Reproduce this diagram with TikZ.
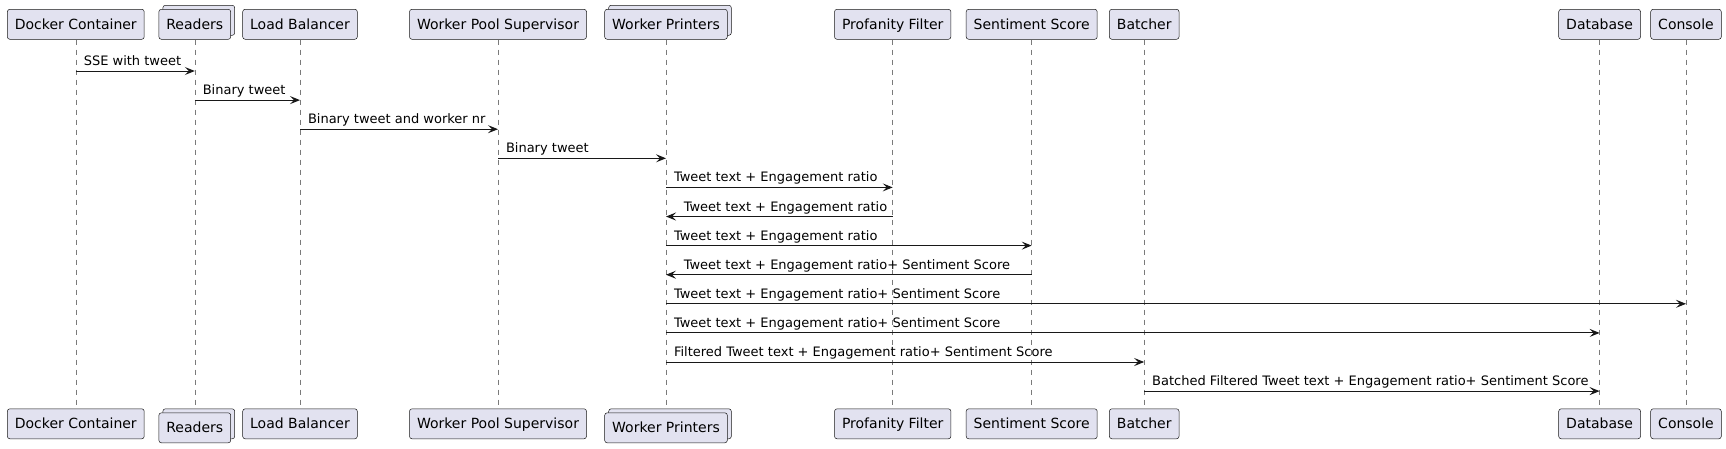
\documentclass[tikz,border=0pt]{standalone}
\usepackage{fontspec}
\setmainfont{DejaVu Sans}
\usepackage{tikz}
\usetikzlibrary{arrows.meta,shadows}
\definecolor{partfill}{HTML}{E2E2F0}
\definecolor{partline}{HTML}{181818}
\definecolor{lifeline}{HTML}{7A7A7A}

\begin{document}
\begin{tikzpicture}
\useasboundingbox (0pt,0pt) rectangle (1726pt,-448pt);
\tikzset{VertexStyle/.style={draw=partline,fill=partfill,line width=0.5pt,rounded corners=2.5pt,
  inner xsep=7.5pt,inner ysep=0pt,minimum height=30pt,text height=11.5pt,text depth=2pt,
  font=\fontsize{14}{16}\selectfont}}
\tikzset{GroupStyle/.style={VertexStyle,copy shadow={shadow xshift=4pt,shadow yshift=4pt,
  fill=partfill,draw=partline,line width=0.5pt}}}
\tikzset{LifeStyle/.style={draw=lifeline,line width=0.6pt,dash pattern=on 5pt off 5pt}}
\tikzset{EdgeStyle/.style={draw=partline,line width=1pt,-{Stealth[length=10pt,width=8pt,inset=4pt]}}}
\tikzset{LabelStyle/.style={inner sep=0pt,font=\fontsize{13}{15}\selectfont}}

\node[VertexStyle] (t0) at (75.8pt,-24.3pt) {Docker Container};
\node[GroupStyle] (t1) at (194.8pt,-24.3pt) {Readers};
\node[VertexStyle] (t2) at (300pt,-24.3pt) {Load Balancer};
\node[VertexStyle] (t3) at (498pt,-24.3pt) {Worker Pool Supervisor};
\node[GroupStyle] (t4) at (666pt,-24.3pt) {Worker Printers};
\node[VertexStyle] (t5) at (892.7pt,-24.3pt) {Profanity Filter};
\node[VertexStyle] (t6) at (1031.7pt,-24.3pt) {Sentiment Score};
\node[VertexStyle] (t7) at (1144.2pt,-24.3pt) {Batcher};
\node[VertexStyle] (t8) at (1599.6pt,-24.3pt) {Database};
\node[VertexStyle] (t9) at (1686pt,-24.3pt) {Console};

\node[VertexStyle] (b0) at (75.8pt,-423.8pt) {Docker Container};
\node[GroupStyle] (b1) at (194.8pt,-427.8pt) {Readers};
\node[VertexStyle] (b2) at (300pt,-423.8pt) {Load Balancer};
\node[VertexStyle] (b3) at (498pt,-423.8pt) {Worker Pool Supervisor};
\node[GroupStyle] (b4) at (666pt,-427.8pt) {Worker Printers};
\node[VertexStyle] (b5) at (892.7pt,-423.8pt) {Profanity Filter};
\node[VertexStyle] (b6) at (1031.7pt,-423.8pt) {Sentiment Score};
\node[VertexStyle] (b7) at (1144.2pt,-423.8pt) {Batcher};
\node[VertexStyle] (b8) at (1599.6pt,-423.8pt) {Database};
\node[VertexStyle] (b9) at (1686pt,-423.8pt) {Console};

\draw[LifeStyle] (t0.south) -- (b0.north);
\draw[LifeStyle] (t1.south) -- ([yshift=4pt]b1.north);
\draw[LifeStyle] (t2.south) -- (b2.north);
\draw[LifeStyle] (t3.south) -- (b3.north);
\draw[LifeStyle] (t4.south) -- ([yshift=4pt]b4.north);
\draw[LifeStyle] (t5.south) -- (b5.north);
\draw[LifeStyle] (t6.south) -- (b6.north);
\draw[LifeStyle] (t7.south) -- (b7.north);
\draw[LifeStyle] (t8.south) -- (b8.north);
\draw[LifeStyle] (t9.south) -- (b9.north);

\coordinate (r1) at (0pt,-71pt);
\coordinate (r2) at (0pt,-100.1pt);
\coordinate (r3) at (0pt,-129.2pt);
\coordinate (r4) at (0pt,-158.3pt);
\coordinate (r5) at (0pt,-187.4pt);
\coordinate (r6) at (0pt,-216.5pt);
\coordinate (r7) at (0pt,-245.6pt);
\coordinate (r8) at (0pt,-274.7pt);
\coordinate (r9) at (0pt,-303.8pt);
\coordinate (r10) at (0pt,-332.9pt);
\coordinate (r11) at (0pt,-362pt);
\coordinate (r12) at (0pt,-391.1pt);

\draw[EdgeStyle] (t0 |- r1) -- node[LabelStyle,pos=0,anchor=base west,xshift=7.5pt,yshift=5.5pt] {SSE with tweet} (t1 |- r1);
\draw[EdgeStyle] (t1 |- r2) -- node[LabelStyle,pos=0,anchor=base west,xshift=7.5pt,yshift=5.5pt] {Binary tweet} (t2 |- r2);
\draw[EdgeStyle] (t2 |- r3) -- node[LabelStyle,pos=0,anchor=base west,xshift=7.5pt,yshift=5.5pt] {Binary tweet and worker nr} (t3 |- r3);
\draw[EdgeStyle] (t3 |- r4) -- node[LabelStyle,pos=0,anchor=base west,xshift=7.5pt,yshift=5.5pt] {Binary tweet} (t4 |- r4);
\draw[EdgeStyle] (t4 |- r5) -- node[LabelStyle,pos=0,anchor=base west,xshift=7.5pt,yshift=5.5pt] {Tweet text + Engagement ratio} (t5 |- r5);
\draw[EdgeStyle] (t5 |- r6) -- node[LabelStyle,pos=1,anchor=base west,xshift=17.3pt,yshift=5.5pt] {Tweet text + Engagement ratio} (t4 |- r6);
\draw[EdgeStyle] (t4 |- r7) -- node[LabelStyle,pos=0,anchor=base west,xshift=7.5pt,yshift=5.5pt] {Tweet text + Engagement ratio} (t6 |- r7);
\draw[EdgeStyle] (t6 |- r8) -- node[LabelStyle,pos=1,anchor=base west,xshift=17.3pt,yshift=5.5pt] {Tweet text + Engagement ratio+ Sentiment Score} (t4 |- r8);
\draw[EdgeStyle] (t4 |- r9) -- node[LabelStyle,pos=0,anchor=base west,xshift=7.5pt,yshift=5.5pt] {Tweet text + Engagement ratio+ Sentiment Score} (t9 |- r9);
\draw[EdgeStyle] (t4 |- r10) -- node[LabelStyle,pos=0,anchor=base west,xshift=7.5pt,yshift=5.5pt] {Tweet text + Engagement ratio+ Sentiment Score} (t8 |- r10);
\draw[EdgeStyle] (t4 |- r11) -- node[LabelStyle,pos=0,anchor=base west,xshift=7.5pt,yshift=5.5pt] {Filtered Tweet text + Engagement ratio+ Sentiment Score} (t7 |- r11);
\draw[EdgeStyle] (t7 |- r12) -- node[LabelStyle,pos=0,anchor=base west,xshift=7.5pt,yshift=5.5pt] {Batched Filtered Tweet text + Engagement ratio+ Sentiment Score} (t8 |- r12);
\end{tikzpicture}
\end{document}
